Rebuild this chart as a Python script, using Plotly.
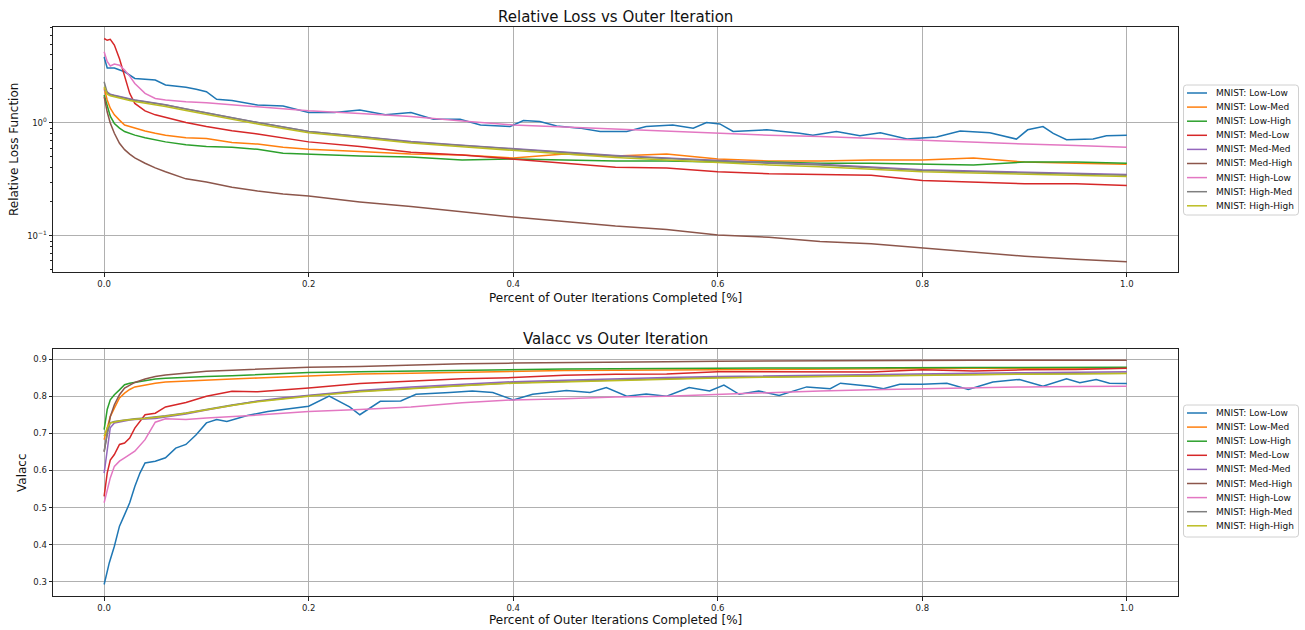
import plotly.graph_objects as go

NAMES = ["MNIST: Low-Low", "MNIST: Low-Med", "MNIST: Low-High", "MNIST: Med-Low",
         "MNIST: Med-Med", "MNIST: Med-High", "MNIST: High-Low", "MNIST: High-Med",
         "MNIST: High-High"]
COLORS = ["#1f77b4", "#ff7f0e", "#2ca02c", "#d62728", "#9467bd", "#8c564b",
          "#e377c2", "#7f7f7f", "#bcbd22"]

# shared x grid (fraction of outer iterations completed)
X = [0, 0.003, 0.006, 0.01, 0.015, 0.02, 0.025, 0.03, 0.04, 0.05, 0.06, 0.08, 0.1,
     0.125, 0.15, 0.175, 0.2, 0.25, 0.3, 0.35, 0.4, 0.45, 0.5, 0.55, 0.6, 0.65, 0.7,
     0.75, 0.8, 0.85, 0.9, 0.95, 1.0]

# ---------------- Relative loss (top panel) ----------------
X_LL_LOSS = [0, 0.003, 0.01, 0.02, 0.03, 0.04, 0.05, 0.06, 0.07, 0.08, 0.09, 0.1, 0.11,
             0.125, 0.15, 0.175, 0.2, 0.225, 0.25, 0.275, 0.3, 0.322, 0.348, 0.368,
             0.397, 0.41, 0.426, 0.4425, 0.465, 0.485, 0.511, 0.53, 0.556, 0.576,
             0.589, 0.602, 0.615, 0.648, 0.68, 0.693, 0.716, 0.739, 0.759, 0.785,
             0.814, 0.837, 0.866, 0.892, 0.903, 0.918, 0.928, 0.941, 0.967, 0.98, 1.0]
LOSS_LOW_LOW = [3.84, 3.07, 3.07, 2.84, 2.48, 2.45, 2.40, 2.17, 2.13, 2.07, 1.99, 1.89,
                1.62, 1.58, 1.44, 1.41, 1.24, 1.24, 1.30, 1.18, 1.24, 1.08, 1.08, 0.96,
                0.93, 1.05, 1.03, 0.94, 0.90, 0.84, 0.84, 0.93, 0.96, 0.90, 1.01, 0.98,
                0.84, 0.87, 0.81, 0.78, 0.84, 0.77, 0.82, 0.72, 0.75, 0.85, 0.82, 0.72,
                0.87, 0.93, 0.81, 0.71, 0.72, 0.77, 0.78]
LOSS_LOW_MED = [2.03, 1.60, 1.35, 1.18, 1.06, 0.96, 0.93, 0.90, 0.85, 0.81, 0.78, 0.74,
                0.73, 0.67, 0.65, 0.61, 0.585, 0.56, 0.53, 0.52, 0.49, 0.53, 0.51, 0.53,
                0.48, 0.46, 0.46, 0.47, 0.47, 0.49, 0.45, 0.44, 0.43]
LOSS_LOW_HIGH = [1.77, 1.40, 1.15, 0.99, 0.90, 0.84, 0.81, 0.78, 0.74, 0.71, 0.68, 0.64,
                 0.62, 0.61, 0.585, 0.54, 0.53, 0.51, 0.50, 0.47, 0.48, 0.47, 0.46, 0.46,
                 0.45, 0.45, 0.44, 0.44, 0.43, 0.425, 0.45, 0.45, 0.44]
LOSS_MED_LOW = [5.6, 5.4, 5.5, 4.9, 3.7, 2.66, 1.83, 1.49, 1.28, 1.18, 1.12, 1.01, 0.93,
                0.855, 0.80, 0.74, 0.68, 0.62, 0.55, 0.52, 0.48, 0.44, 0.405, 0.40, 0.37,
                0.355, 0.35, 0.345, 0.31, 0.30, 0.29, 0.29, 0.28]
LOSS_MED_MED = [1.96, 1.87, 1.80, 1.76, 1.72, 1.67, 1.63, 1.60, 1.55, 1.50, 1.45, 1.33,
                1.22, 1.11, 1.01, 0.92, 0.84, 0.76, 0.685, 0.635, 0.59, 0.55, 0.515,
                0.49, 0.465, 0.445, 0.43, 0.405, 0.385, 0.375, 0.365, 0.355, 0.35]
LOSS_MED_HIGH = [1.71, 1.25, 1.00, 0.81, 0.66, 0.58, 0.53, 0.49, 0.44, 0.40, 0.37, 0.32,
                 0.30, 0.27, 0.25, 0.235, 0.225, 0.20, 0.182, 0.163, 0.147, 0.134, 0.122,
                 0.114, 0.102, 0.097, 0.089, 0.085, 0.078, 0.071, 0.066, 0.062, 0.059]
LOSS_HIGH_LOW = [4.27, 3.50, 3.20, 3.33, 3.25, 2.95, 2.60, 2.24, 1.83, 1.65, 1.60, 1.54,
                 1.51, 1.45, 1.39, 1.33, 1.28, 1.21, 1.14, 1.04, 0.96, 0.92, 0.88, 0.84,
                 0.81, 0.78, 0.76, 0.73, 0.70, 0.68, 0.65, 0.63, 0.61]
LOSS_HIGH_MED = [2.32, 1.85, 1.78, 1.74, 1.70, 1.65, 1.62, 1.59, 1.54, 1.49, 1.44, 1.33,
                 1.22, 1.11, 1.01, 0.92, 0.84, 0.76, 0.68, 0.63, 0.585, 0.545, 0.51, 0.485,
                 0.46, 0.44, 0.425, 0.40, 0.38, 0.37, 0.36, 0.35, 0.345]
LOSS_HIGH_HIGH = [2.09, 1.80, 1.74, 1.70, 1.66, 1.61, 1.58, 1.55, 1.50, 1.45, 1.40, 1.29,
                  1.19, 1.08, 0.98, 0.895, 0.82, 0.74, 0.665, 0.615, 0.57, 0.53, 0.495,
                  0.47, 0.445, 0.425, 0.41, 0.39, 0.37, 0.36, 0.35, 0.34, 0.335]

# ---------------- Validation accuracy (bottom panel) ----------------
X_LL_ACC = [0, 0.005, 0.01, 0.015, 0.02, 0.025, 0.03, 0.035, 0.04, 0.05, 0.06, 0.07, 0.08,
            0.09, 0.1, 0.11, 0.12, 0.14, 0.16, 0.18, 0.2, 0.22, 0.24, 0.25, 0.27, 0.29,
            0.305, 0.338, 0.36, 0.38, 0.4, 0.419, 0.452, 0.475, 0.491, 0.511, 0.53, 0.55,
            0.572, 0.592, 0.606, 0.621, 0.64, 0.66, 0.687, 0.71, 0.72, 0.749, 0.762,
            0.778, 0.8, 0.824, 0.845, 0.869, 0.895, 0.918, 0.941, 0.954, 0.97, 0.983, 1.0]
ACC_LOW_LOW = [0.293, 0.351, 0.396, 0.45, 0.481, 0.513, 0.557, 0.593, 0.62, 0.625, 0.634,
               0.66, 0.67, 0.696, 0.728, 0.737, 0.732, 0.748, 0.759, 0.765, 0.773, 0.80,
               0.771, 0.75, 0.786, 0.787, 0.805, 0.81, 0.814, 0.81, 0.79, 0.805, 0.815,
               0.81, 0.823, 0.80, 0.806, 0.80, 0.823, 0.814, 0.83, 0.805, 0.814, 0.802,
               0.825, 0.82, 0.835, 0.827, 0.82, 0.832, 0.832, 0.835, 0.818, 0.838, 0.845,
               0.827, 0.847, 0.836, 0.845, 0.835, 0.834]
ACC_LOW_MED = [0.683, 0.715, 0.745, 0.768, 0.795, 0.808, 0.818, 0.825, 0.831, 0.835, 0.838,
               0.841, 0.843, 0.846, 0.849, 0.852, 0.855, 0.86, 0.862, 0.865, 0.867, 0.869,
               0.87, 0.871, 0.872, 0.873, 0.873, 0.874, 0.875, 0.875, 0.875, 0.876, 0.876]
ACC_LOW_HIGH = [0.71, 0.764, 0.79, 0.804, 0.817, 0.831, 0.835, 0.837, 0.843, 0.846, 0.848,
                0.851, 0.853, 0.855, 0.858, 0.861, 0.864, 0.866, 0.868, 0.87, 0.872, 0.873,
                0.874, 0.875, 0.875, 0.876, 0.876, 0.877, 0.877, 0.877, 0.877, 0.878, 0.878]
ACC_MED_LOW = [0.53, 0.593, 0.628, 0.643, 0.67, 0.674, 0.687, 0.714, 0.75, 0.754, 0.771,
               0.783, 0.80, 0.813, 0.812, 0.817, 0.822, 0.834, 0.84, 0.847, 0.85, 0.856,
               0.859, 0.86, 0.866, 0.866, 0.864, 0.865, 0.871, 0.868, 0.871, 0.872, 0.875]
ACC_MED_MED = [0.593, 0.66, 0.715, 0.728, 0.731, 0.734, 0.736, 0.737, 0.738, 0.740, 0.744,
               0.752, 0.763, 0.776, 0.787, 0.796, 0.803, 0.815, 0.825, 0.832, 0.839, 0.843,
               0.847, 0.850, 0.853, 0.855, 0.857, 0.859, 0.861, 0.862, 0.863, 0.865, 0.866]
ACC_MED_HIGH = [0.651, 0.70, 0.745, 0.777, 0.804, 0.822, 0.83, 0.837, 0.846, 0.853, 0.857,
                0.862, 0.867, 0.870, 0.873, 0.876, 0.878, 0.88, 0.884, 0.887, 0.889, 0.891,
                0.892, 0.893, 0.894, 0.895, 0.896, 0.896, 0.897, 0.897, 0.897, 0.897, 0.897]
ACC_HIGH_LOW = [0.513, 0.55, 0.58, 0.611, 0.625, 0.634, 0.643, 0.652, 0.683, 0.73, 0.739,
                0.737, 0.741, 0.744, 0.749, 0.754, 0.759, 0.764, 0.771, 0.782, 0.79, 0.793,
                0.798, 0.80, 0.805, 0.81, 0.814, 0.817, 0.82, 0.822, 0.825, 0.826, 0.827]
ACC_HIGH_MED = [0.651, 0.70, 0.728, 0.732, 0.734, 0.736, 0.738, 0.739, 0.741, 0.743, 0.747,
                0.755, 0.765, 0.776, 0.786, 0.794, 0.801, 0.813, 0.822, 0.829, 0.836, 0.840,
                0.844, 0.847, 0.85, 0.852, 0.854, 0.856, 0.858, 0.859, 0.86, 0.861, 0.862]
ACC_HIGH_HIGH = [0.692, 0.715, 0.728, 0.731, 0.733, 0.735, 0.737, 0.738, 0.740, 0.742, 0.746,
                 0.754, 0.764, 0.775, 0.785, 0.793, 0.800, 0.812, 0.821, 0.828, 0.835, 0.839,
                 0.843, 0.846, 0.849, 0.851, 0.853, 0.855, 0.857, 0.858, 0.859, 0.860, 0.861]

X_TICKS = [0.0, 0.2, 0.4, 0.6, 0.8, 1.0]
X_TICK_TEXT = ["0.0", "0.2", "0.4", "0.6", "0.8", "1.0"]
LOSS_TICKS = [0.1, 1.0]
LOSS_TICK_TEXT = ["10<sup>\u22121</sup>", "10<sup>0</sup>"]
LOSS_MINOR = [0.05, 0.06, 0.07, 0.08, 0.09, 0.2, 0.3, 0.4, 0.5, 0.6, 0.7, 0.8, 0.9,
              2, 3, 4, 5, 6, 7]
ACC_TICKS = [0.3, 0.4, 0.5, 0.6, 0.7, 0.8, 0.9]

loss_series = [(X_LL_LOSS, LOSS_LOW_LOW), (X, LOSS_LOW_MED), (X, LOSS_LOW_HIGH),
               (X, LOSS_MED_LOW), (X, LOSS_MED_MED), (X, LOSS_MED_HIGH),
               (X, LOSS_HIGH_LOW), (X, LOSS_HIGH_MED), (X, LOSS_HIGH_HIGH)]
acc_series = [(X_LL_ACC, ACC_LOW_LOW), (X, ACC_LOW_MED), (X, ACC_LOW_HIGH),
              (X, ACC_MED_LOW), (X, ACC_MED_MED), (X, ACC_MED_HIGH),
              (X, ACC_HIGH_LOW), (X, ACC_HIGH_MED), (X, ACC_HIGH_HIGH)]

FONT = "DejaVu Sans"
fig = go.Figure()
for name, color, (xs, ys) in zip(NAMES, COLORS, loss_series):
    fig.add_trace(go.Scatter(x=xs, y=ys, mode="lines", name=name,
                             line=dict(color=color, width=1.5),
                             xaxis="x", yaxis="y", showlegend=False))
for name, color, (xs, ys) in zip(NAMES, COLORS, acc_series):
    fig.add_trace(go.Scatter(x=xs, y=ys, mode="lines", name=name,
                             line=dict(color=color, width=1.5),
                             xaxis="x2", yaxis="y2", showlegend=False))

# The page body margin is removed by the post-script below, so the figure
# fills the whole window.
W, H = 1305, 630
def px_x(p):
    return p / W
def px_y(p):
    return 1 - p / H

axis_common = dict(showline=True, linecolor="#222", linewidth=1, mirror=True,
                   showgrid=True, gridcolor="#b0b0b0", gridwidth=0.8,
                   ticks="outside", ticklen=3.5, tickwidth=0.8, tickcolor="#222",
                   tickfont=dict(family=FONT, size=8.5, color="#222"), zeroline=False)

annotations = [
    dict(text="Relative Loss vs Outer Iteration", x=px_x(615.5), y=px_y(17),
         xref="paper", yref="paper", showarrow=False, xanchor="center",
         yanchor="middle", font=dict(family=FONT, size=15, color="#111")),
    dict(text="Valacc vs Outer Iteration", x=px_x(615.5), y=px_y(339),
         xref="paper", yref="paper", showarrow=False, xanchor="center",
         yanchor="middle", font=dict(family=FONT, size=15, color="#111")),
    dict(text="Percent of Outer Iterations Completed [%]", x=px_x(615.5),
         y=px_y(298), xref="paper", yref="paper", showarrow=False,
         xanchor="center", yanchor="middle",
         font=dict(family=FONT, size=12, color="#111")),
    dict(text="Percent of Outer Iterations Completed [%]", x=px_x(615.5),
         y=px_y(620), xref="paper", yref="paper", showarrow=False,
         xanchor="center", yanchor="middle",
         font=dict(family=FONT, size=12, color="#111")),
    dict(text="Relative Loss Function", x=px_x(14), y=px_y(150), xref="paper",
         yref="paper", showarrow=False, textangle=-90, xanchor="center",
         yanchor="middle", font=dict(family=FONT, size=12, color="#111")),
    dict(text="Valacc", x=px_x(22), y=px_y(472), xref="paper", yref="paper",
         showarrow=False, textangle=-90, xanchor="center", yanchor="middle",
         font=dict(family=FONT, size=12, color="#111")),
]
shapes = []

# matplotlib-style legend boxes (one per panel), drawn with shapes + text
def add_legend(top, bottom):
    left, right, r = 1183.5, 1298.5, 3
    x0, x1 = px_x(left), px_x(right)
    y0, y1 = px_y(bottom), px_y(top)
    rx, ry = r / W, r / H
    path = (f"M {x0+rx},{y1} L {x1-rx},{y1} Q {x1},{y1} {x1},{y1-ry} "
            f"L {x1},{y0+ry} Q {x1},{y0} {x1-rx},{y0} L {x0+rx},{y0} "
            f"Q {x0},{y0} {x0},{y0+ry} L {x0},{y1-ry} Q {x0},{y1} {x0+rx},{y1} Z")
    shapes.append(dict(type="path", path=path, xref="paper", yref="paper",
                       fillcolor="rgba(255,255,255,0.85)",
                       line=dict(color="#d0d0d0", width=1), layer="above"))
    for i, (name, color) in enumerate(zip(NAMES, COLORS)):
        yc = top + 8.0 + 14.1 * i
        shapes.append(dict(type="line", xref="paper", yref="paper",
                           x0=px_x(1187), x1=px_x(1207), y0=px_y(yc), y1=px_y(yc),
                           line=dict(color=color, width=1.5), layer="above"))
        annotations.append(dict(text=name, x=px_x(1213.5), y=px_y(yc), xref="paper",
                                yref="paper", showarrow=False, xanchor="left",
                                yanchor="middle",
                                font=dict(family=FONT, size=9, color="#111")))

add_legend(85, 215)
add_legend(405, 537)

fig.update_layout(
    width=W, height=H,
    margin=dict(l=0, r=0, t=0, b=0),
    paper_bgcolor="white", plot_bgcolor="white",
    font=dict(family=FONT, color="#222"),
    showlegend=False,
    xaxis=dict(domain=[px_x(53), px_x(1178)], range=[-0.05, 1.05], anchor="y",
               tickvals=X_TICKS, ticktext=X_TICK_TEXT, **axis_common),
    yaxis=dict(domain=[px_y(272), px_y(27)], type="log", range=[-1.32, 0.85],
               anchor="x", tickvals=LOSS_TICKS, ticktext=LOSS_TICK_TEXT,
               minor=dict(tickmode="array", tickvals=LOSS_MINOR, ticks="outside",
                          ticklen=2, tickwidth=0.6, tickcolor="#222", showgrid=False),
               **axis_common),
    xaxis2=dict(domain=[px_x(53), px_x(1178)], range=[-0.05, 1.05], anchor="y2",
                tickvals=X_TICKS, ticktext=X_TICK_TEXT, **axis_common),
    yaxis2=dict(domain=[px_y(596), px_y(349)], range=[0.262, 0.927], anchor="x2",
                tickvals=ACC_TICKS, tickformat=".1f", **axis_common),
    annotations=annotations,
    shapes=shapes,
)

fig.write_html("out.html",
               config={"displayModeBar": False},
               post_script="document.body.style.margin='0px';"
                           "document.body.style.overflow='hidden';")
